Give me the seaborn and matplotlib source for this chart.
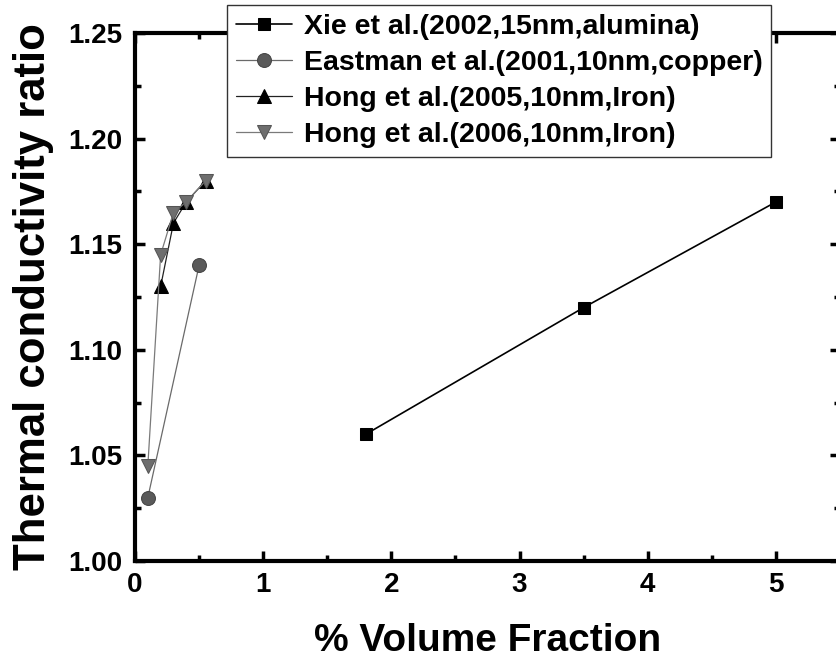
import matplotlib
matplotlib.use("Agg")
import matplotlib.pyplot as plt
from matplotlib.ticker import MultipleLocator, FormatStrFormatter
import seaborn as sns
import pandas as pd

# data
xie_x = [1.8, 3.5, 5.0]
xie_y = [1.06, 1.12, 1.17]
eastman_x = [0.1, 0.5]
eastman_y = [1.03, 1.14]
hong05_x = [0.2, 0.3, 0.4, 0.55]
hong05_y = [1.13, 1.16, 1.17, 1.18]
hong06_x = [0.1, 0.2, 0.3, 0.4, 0.55]
hong06_y = [1.045, 1.145, 1.165, 1.17, 1.18]

labels = [
    "Xie et al.(2002,15nm,alumina)",
    "Eastman et al.(2001,10nm,copper)",
    "Hong et al.(2005,10nm,Iron)",
    "Hong et al.(2006,10nm,Iron)",
]

sns.set_style("ticks")
plt.rcParams["font.family"] = ["Liberation Sans", "DejaVu Sans"]
plt.rcParams["font.weight"] = "bold"
for key in ["text.color", "axes.labelcolor", "xtick.color", "ytick.color", "axes.edgecolor"]:
    plt.rcParams[key] = "black"

fig = plt.figure(figsize=(8.36, 6.63), dpi=100)
ax = fig.add_axes([135 / 836, 1 - 561 / 663, (840 - 135) / 836, (561 - 33) / 663])

series = [
    (xie_x, xie_y, dict(color="black", marker="s", markersize=8.5, lw=1.2,
                        mfc="black", mec="black")),
    (eastman_x, eastman_y, dict(color="#6a6a6a", marker="o", markersize=10, lw=0.9,
                                mfc="#5a5a5a", mec="#444444")),
    (hong05_x, hong05_y, dict(color="#222222", marker="^", markersize=10.5, lw=0.9,
                              mfc="black", mec="black")),
    (hong06_x, hong06_y, dict(color="#7a7a7a", marker="v", markersize=10.5, lw=0.9,
                              mfc="#6e6e6e", mec="#555555")),
]

for (xs, ys, kw), lab in zip(series, labels):
    df = pd.DataFrame({"x": xs, "y": ys})
    sns.lineplot(data=df, x="x", y="y", ax=ax, label=lab, **kw)

ax.set_xlim(0, 5.5)
ax.set_ylim(1.0, 1.25)
ax.xaxis.set_major_locator(MultipleLocator(1))
ax.xaxis.set_minor_locator(MultipleLocator(0.5))
ax.yaxis.set_major_locator(MultipleLocator(0.05))
ax.yaxis.set_minor_locator(MultipleLocator(0.025))
ax.yaxis.set_major_formatter(FormatStrFormatter("%.2f"))

for s in ax.spines.values():
    s.set_linewidth(3)
    s.set_visible(True)
    s.set_color("black")
ax.tick_params(which="both", direction="in", top=True, right=True,
               width=2.5, labelsize=20, colors="black")
ax.tick_params(which="major", length=7)
ax.tick_params(which="minor", length=4)
ax.tick_params(axis="y", pad=9)
ax.tick_params(axis="x", pad=8)
for t in ax.get_xticklabels() + ax.get_yticklabels():
    t.set_fontweight("bold")

ax.set_xlabel("% Volume Fraction", fontsize=28, fontweight="bold", labelpad=18)
ax.set_ylabel("Thermal conductivity ratio", fontsize=31.5, fontweight="bold", labelpad=10)

leg = ax.legend(loc="upper left", bbox_to_anchor=(227 / 836, 1 - 5 / 663),
                bbox_transform=fig.transFigure, borderaxespad=0, fancybox=False,
                frameon=True, framealpha=1, edgecolor="#333333",
                prop={"size": 20.5, "weight": "bold"},
                handlelength=2.0, handletextpad=0.4, labelspacing=0.36,
                borderpad=0.3)
leg.get_frame().set_linewidth(1.0)
for t in leg.get_texts():
    t.set_color("black")

fig.savefig("out.png", dpi=100)
